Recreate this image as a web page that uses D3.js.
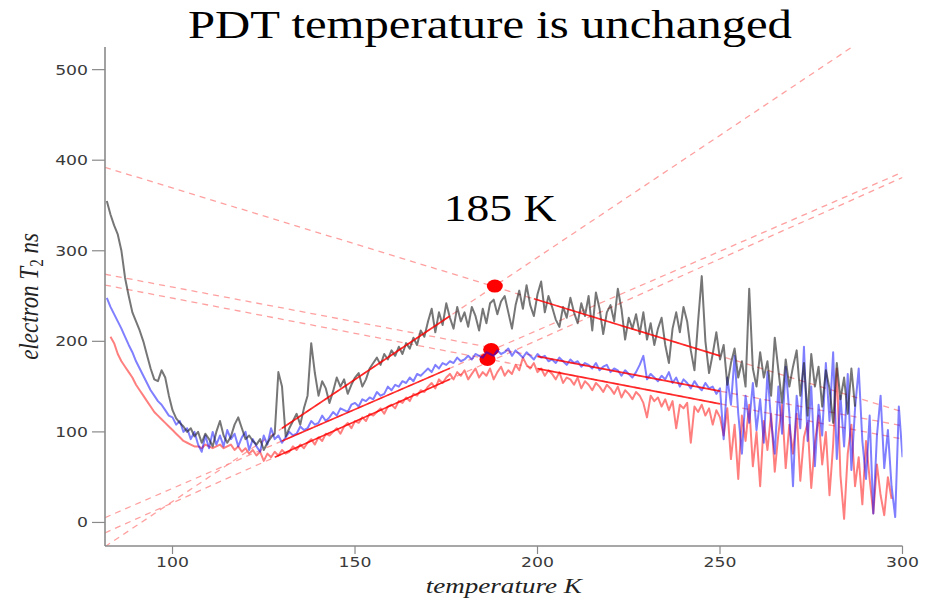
<!DOCTYPE html>
<html>
<head>
<meta charset="utf-8">
<script src="https://cdn.jsdelivr.net/npm/d3@7"></script>
<style>
  body { margin: 0; background: #fff; }
</style>
</head>
<body>
<svg id="chart" width="940" height="599"></svg>
<script>
// Axis ticks
const xTicks = [100, 150, 200, 250, 300];
const yTicks = [0, 100, 200, 300, 400, 500];

// Electron T2 (ns) sampled every 1 K, starting at the given temperature
const blackStart = 82;
const blackT2 = [
  355,340,328,318,300,270,250,232,222,212,200,185,170,158,156,168,160,140,124,115,
  110,106,100,104,95,100,88,98,92,84,100,112,96,88,95,108,116,104,92,96,
  90,86,92,80,88,94,98,166,150,95,104,112,120,108,126,140,198,165,140,156,
  148,132,145,160,150,158,142,152,160,165,150,158,170,176,182,174,186,180,190,184,
  194,186,198,192,204,196,212,205,222,236,210,232,218,242,226,214,238,222,232,216,
  238,228,212,236,220,242,246,230,244,250,232,214,240,256,236,262,240,228,252,266,
  232,250,238,224,216,238,226,248,232,220,242,228,250,212,254,236,208,232,240,222,
  258,236,202,226,214,230,208,232,202,220,196,214,226,196,176,214,232,210,238,222,
  190,168,222,272,200,165,186,210,180,196,152,176,192,160,178,150,258,170,150,188,
  160,178,140,204,168,132,180,150,172,190,140,176,118,186,150,172,128,168,148,110,
  176,136,160,120,170,128
];

const blueStart = 82;
const blueT2 = [
  248,238,230,222,214,205,196,188,178,170,162,154,146,140,134,130,124,118,116,108,
  112,100,104,92,100,86,78,96,82,100,86,96,84,102,92,98,84,94,100,80,
  92,84,78,96,86,104,
  92,96,88,94,100,96,98,106,102,104,112,108,110,118,112,116,122,118,126,124,
  122,130,132,128,136,134,138,136,144,140,142,150,146,152,150,156,154,160,156,164,
  162,166,170,166,174,170,176,174,178,176,182,178,180,184,180,186,184,182,188,186,
  184,190,186,188,192,184,190,186,182,188,184,180,186,182,184,178,180,176,182,178,
  174,180,176,178,172,176,174,170,176,168,172,174,166,170,168,162,168,164,160,166,
  174,184,158,164,160,156,162,158,166,154,160,150,158,154,148,156,150,146,154,148,
  150,142,148,
  92,160,130,184,120,76,140,110,154,102,136,88,166,112,76,150,98,172,120,40,
  140,104,194,90,150,62,130,96,176,112,188,70,140,84,164,58,126,170,90,48,
  118,10,96,140,60,102,40,6,128,72
];

const redStart = 83;
const redT2 = [
  205,198,186,178,172,166,160,152,146,140,134,128,122,118,114,110,106,102,98,94,
  90,88,86,84,84,82,86,84,82,84,86,82,84,86,80,84,78,82,76,80,
  74,78,68,76,72,
  78,74,80,76,78,84,80,86,82,88,92,86,94,90,98,96,100,104,98,106,
  110,104,112,110,116,112,120,118,122,126,120,128,130,126,134,132,138,134,142,140,
  146,144,150,154,148,158,154,160,164,158,166,162,168,158,164,170,160,166,162,170,
  158,166,172,162,168,164,174,168,182,174,170,176,166,170,162,168,164,158,166,154,
  160,158,152,160,148,156,152,146,154,150,144,152,148,142,150,138,146,142,136,144,
  140,132,116,140,134,138,128,136,124,134,104,130,126,132,88,128,122,130,118,126,
  108,124,116,
  96,126,70,108,48,118,90,130,62,100,40,112,80,120,56,98,130,60,108,76,
  120,46,94,110,38,88,118,64,100,30,86,170,52,4,76,108,40,72,20,90,
  48,10,64,30,8,50,26
];

// Straight-line fits over the rising and falling branches
const fitT0 = [130, 199, 130, 200, 128, 200];
const fitV0 = [104, 247,  90, 183.3, 72, 169.9];
const fitT1 = [176, 250, 176, 250, 176, 250];
const fitV1 = [228, 184, 170.3, 145, 158.2, 131];

// Crossing points of the fits
const crossT = [188.3, 187.3, 186.3];
const crossV = [261, 191, 180];

const titleText = "PDT temperature is unchanged";
const noteText = "185 K";

// ---- layout ----
const SX = 1.23;               // horizontal glyph stretch
const svg = d3.select("#chart");
const plot = {left: 105, right: 902.5, top: 47, bottom: 546};

const x = d3.scaleLinear().domain([81.5, 300]).range([plot.left, plot.right]);
const y = d3.scaleLinear().domain([-26, 525]).range([plot.bottom, plot.top]);

svg.append("defs").append("clipPath").attr("id", "plotclip")
  .append("rect")
  .attr("x", plot.left).attr("y", plot.top)
  .attr("width", plot.right - plot.left).attr("height", plot.bottom - plot.top);

const gPlot = svg.append("g").attr("clip-path", "url(#plotclip)");

// Dashed extensions of each fit across the full temperature range
const [dMin, dMax] = x.domain();
fitT0.forEach((t0, i) => {
  const slope = (fitV1[i] - fitV0[i]) / (fitT1[i] - t0);
  const vAt = t => fitV0[i] + slope * (t - t0);
  gPlot.append("line")
    .attr("x1", x(dMin)).attr("y1", y(vAt(dMin)))
    .attr("x2", x(dMax)).attr("y2", y(vAt(dMax)))
    .attr("stroke", "#ff8080").attr("stroke-opacity", 0.75)
    .attr("stroke-width", 1.3).attr("stroke-dasharray", "6,5");
});

// Crossing markers
gPlot.selectAll("ellipse.cross").data(crossT).join("ellipse")
  .attr("class", "cross")
  .attr("cx", (d) => x(d))
  .attr("cy", (d, i) => y(crossV[i]))
  .attr("rx", 8).attr("ry", 6.5)
  .attr("fill", "#ff0000");

// Measured series
const line = d3.line().x(d => x(d[0])).y(d => y(d[1]));
const series = [
  {start: redStart, vals: redT2, color: "#ff0000", op: 0.5},
  {start: blueStart, vals: blueT2, color: "#0000ff", op: 0.5},
  {start: blackStart, vals: blackT2, color: "#1a1a1a", op: 0.6}
];
series.forEach(s => {
  gPlot.append("path")
    .datum(s.vals.map((v, i) => [s.start + i, v]))
    .attr("d", line)
    .attr("fill", "none")
    .attr("stroke", s.color).attr("stroke-opacity", s.op)
    .attr("stroke-width", 2).attr("stroke-linejoin", "round");
});

// Solid fit segments
fitT0.forEach((t0, i) => {
  gPlot.append("line")
    .attr("x1", x(t0)).attr("y1", y(fitV0[i]))
    .attr("x2", x(fitT1[i])).attr("y2", y(fitV1[i]))
    .attr("stroke", "#ff0000").attr("stroke-opacity", 0.8)
    .attr("stroke-width", 1.7);
});

// ---- axes ----
const axisColor = "#8a8a8a";
const gAxes = svg.append("g");
gAxes.append("line")
  .attr("x1", plot.left).attr("y1", plot.top)
  .attr("x2", plot.left).attr("y2", plot.bottom)
  .attr("stroke", axisColor).attr("stroke-width", 1.6);
gAxes.append("line")
  .attr("x1", plot.left).attr("y1", plot.bottom)
  .attr("x2", plot.right).attr("y2", plot.bottom)
  .attr("stroke", axisColor).attr("stroke-width", 1.6);

yTicks.forEach(t => {
  gAxes.append("line")
    .attr("x1", plot.left - 13).attr("x2", plot.left)
    .attr("y1", y(t)).attr("y2", y(t))
    .attr("stroke", axisColor).attr("stroke-width", 1.2);
  gAxes.append("text")
    .attr("transform", `translate(${plot.left - 17},${y(t)}) scale(${SX},1)`)
    .attr("dy", "0.36em")
    .attr("text-anchor", "end")
    .attr("font-family", "DejaVu Sans, sans-serif")
    .attr("font-size", 14).attr("fill", "#3a3a3a")
    .text(t);
});

xTicks.forEach(t => {
  gAxes.append("line")
    .attr("x1", x(t)).attr("x2", x(t))
    .attr("y1", plot.bottom).attr("y2", plot.bottom + 8)
    .attr("stroke", axisColor).attr("stroke-width", 1.2);
  gAxes.append("text")
    .attr("transform", `translate(${x(t)},${plot.bottom + 21}) scale(${SX},1)`)
    .attr("text-anchor", "middle")
    .attr("font-family", "DejaVu Sans, sans-serif")
    .attr("font-size", 14).attr("fill", "#3a3a3a")
    .text(t);
});

// Axis titles
svg.append("text")
  .attr("transform", `translate(${(plot.left + plot.right) / 2},593) scale(${SX},1)`)
  .attr("text-anchor", "middle")
  .attr("font-family", "Liberation Serif, serif")
  .attr("font-style", "italic")
  .attr("font-size", 22).attr("fill", "#222")
  .text("temperature K");

const yl = svg.append("text")
  .attr("transform", `translate(38,${(plot.top + plot.bottom) / 2}) scale(${SX},1) rotate(-90)`)
  .attr("text-anchor", "middle")
  .attr("font-family", "Liberation Serif, serif")
  .attr("font-style", "italic")
  .attr("font-size", 23).attr("fill", "#222");
yl.append("tspan").text("electron T");
yl.append("tspan").attr("font-size", 15).attr("font-style", "normal").attr("dy", 4).text("2");
yl.append("tspan").attr("dy", -4).text(" ns");

// Title and annotation
svg.append("text")
  .attr("transform", `translate(490,38) scale(1.25,1)`)
  .attr("text-anchor", "middle")
  .attr("font-family", "Liberation Serif, serif")
  .attr("font-size", 39).attr("fill", "#000")
  .text(titleText);

svg.append("text")
  .attr("transform", `translate(500,221) scale(${SX},1)`)
  .attr("text-anchor", "middle")
  .attr("font-family", "Liberation Serif, serif")
  .attr("font-size", 37).attr("fill", "#000")
  .text(noteText);
</script>
</body>
</html>
